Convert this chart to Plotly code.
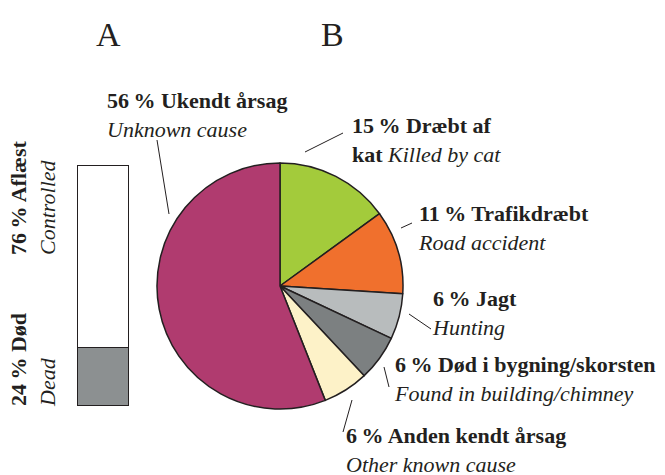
import plotly.graph_objects as go

# The page body has an 8px margin; draw in reference pixel coordinates and offset.
OFF = 8
W, H = 665 - OFF, 475 - OFF

# Panel A data
bar_categories = ["Død", "Aflæst"]
bar_values = [24, 76]
bar_colors = ["#8c9091", "#ffffff"]

# Panel B data
pie_labels = ["Dræbt af kat", "Trafikdræbt", "Jagt", "Død i bygning/skorsten",
              "Anden kendt årsag", "Ukendt årsag"]
pie_values = [15, 11, 6, 6, 6, 56]
pie_colors = ["#a3cb3b", "#f0702d", "#b8bcbd", "#7c8081", "#fdf2c8", "#b03b6f"]

INK = "#231f20"
FONT = "Liberation Serif"
FS = 22


def px(x):
    return (x - OFF) / W


def py(y):
    return 1 - (y - OFF) / H


fig = go.Figure()

for cat, val, col in zip(bar_categories, bar_values, bar_colors):
    fig.add_trace(go.Bar(x=[0], y=[val], name=cat, marker_color=col, width=1,
                         marker_line_color=INK, marker_line_width=1.5,
                         xaxis="x", yaxis="y", showlegend=False))

cx, cy, r = 280, 286, 123
fig.add_trace(go.Pie(labels=pie_labels, values=pie_values, sort=False,
                     direction="clockwise", rotation=0,
                     marker=dict(colors=pie_colors, line=dict(color=INK, width=1.5)),
                     textinfo="none", showlegend=False,
                     domain=dict(x=[px(cx - r), px(cx + r)], y=[py(cy + r), py(cy - r)])))

# bar spans x 78..129 and y 166..406 (reference pixels); axes padded so outlines aren't clipped
bx0, bx1, by0, by1 = 78, 129, 166, 406
pad = 8
sx = (bx1 - bx0) / 1.0
sy = (by1 - by0) / 100.0
fig.update_layout(
    width=W, height=H, margin=dict(l=0, r=0, t=0, b=0),
    paper_bgcolor="white", plot_bgcolor="rgba(0,0,0,0)",
    barmode="stack", bargap=0,
    xaxis=dict(domain=[px(bx0 - pad), px(bx1 + pad)],
               range=[-0.5 - pad / sx, 0.5 + pad / sx], visible=False),
    yaxis=dict(domain=[py(by1 + pad), py(by0 - pad)],
               range=[-pad / sy, 100 + pad / sy], visible=False),
    font=dict(family=FONT, color=INK, size=FS),
)

T = "\u2009"
labels = [
    (106, 115, f"<b>56{T}% Ukendt årsag</b><br><i>Unknown cause</i>"),
    (351, 140, f"<b>15{T}% Dræbt af</b><br><b>kat</b> <i>Killed by cat</i>"),
    (417, 228, f"<b>11{T}% Trafikdræbt</b><br><i>Road accident</i>"),
    (431, 313, f"<b>6{T}% Jagt</b><br><i>Hunting</i>"),
    (393, 379, f"<b>6{T}% Død i bygning/skorsten</b><br><i>Found in building/chimney</i>"),
    (345, 450, f"<b>6{T}% Anden kendt årsag</b><br><i>Other known cause</i>"),
]
for x, y, t in labels:
    fig.add_annotation(x=px(x), y=py(y), xref="paper", yref="paper", text=t,
                       showarrow=False, xanchor="left", yanchor="middle", align="left",
                       font=dict(size=FS, family=FONT, color=INK), borderpad=0)

# Panel letters
fig.add_annotation(x=px(108), y=py(35), xref="paper", yref="paper", text="A",
                   showarrow=False, xanchor="center", yanchor="middle",
                   font=dict(size=34, family=FONT, color=INK))
fig.add_annotation(x=px(332), y=py(35), xref="paper", yref="paper", text="B",
                   showarrow=False, xanchor="center", yanchor="middle",
                   font=dict(size=34, family=FONT, color=INK))

# Rotated labels for panel A
fig.add_annotation(x=px(33), y=py(256), xref="paper", yref="paper",
                   text=f"<b>76{T}% Aflæst</b><br><i>Controlled</i>", textangle=-90,
                   showarrow=False, xanchor="center", yanchor="bottom", align="left",
                   font=dict(size=FS, family=FONT, color=INK), borderpad=0)
fig.add_annotation(x=px(33), y=py(408), xref="paper", yref="paper",
                   text=f"<b>24{T}% Død</b><br><i>Dead</i>", textangle=-90,
                   showarrow=False, xanchor="center", yanchor="bottom", align="left",
                   font=dict(size=FS, family=FONT, color=INK), borderpad=0)

# Leader lines
leaders = [
    (157, 140, 169, 214),
    (305, 152, 343, 133),
    (401, 228, 412, 223),
    (409, 314, 431, 329),
    (384, 367, 389, 387),
    (352, 400, 343, 432),
]
for x0, y0, x1, y1 in leaders:
    fig.add_shape(type="line", xref="paper", yref="paper",
                  x0=px(x0), y0=py(y0), x1=px(x1), y1=py(y1),
                  line=dict(color=INK, width=1))

fig.write_html("out.html")
